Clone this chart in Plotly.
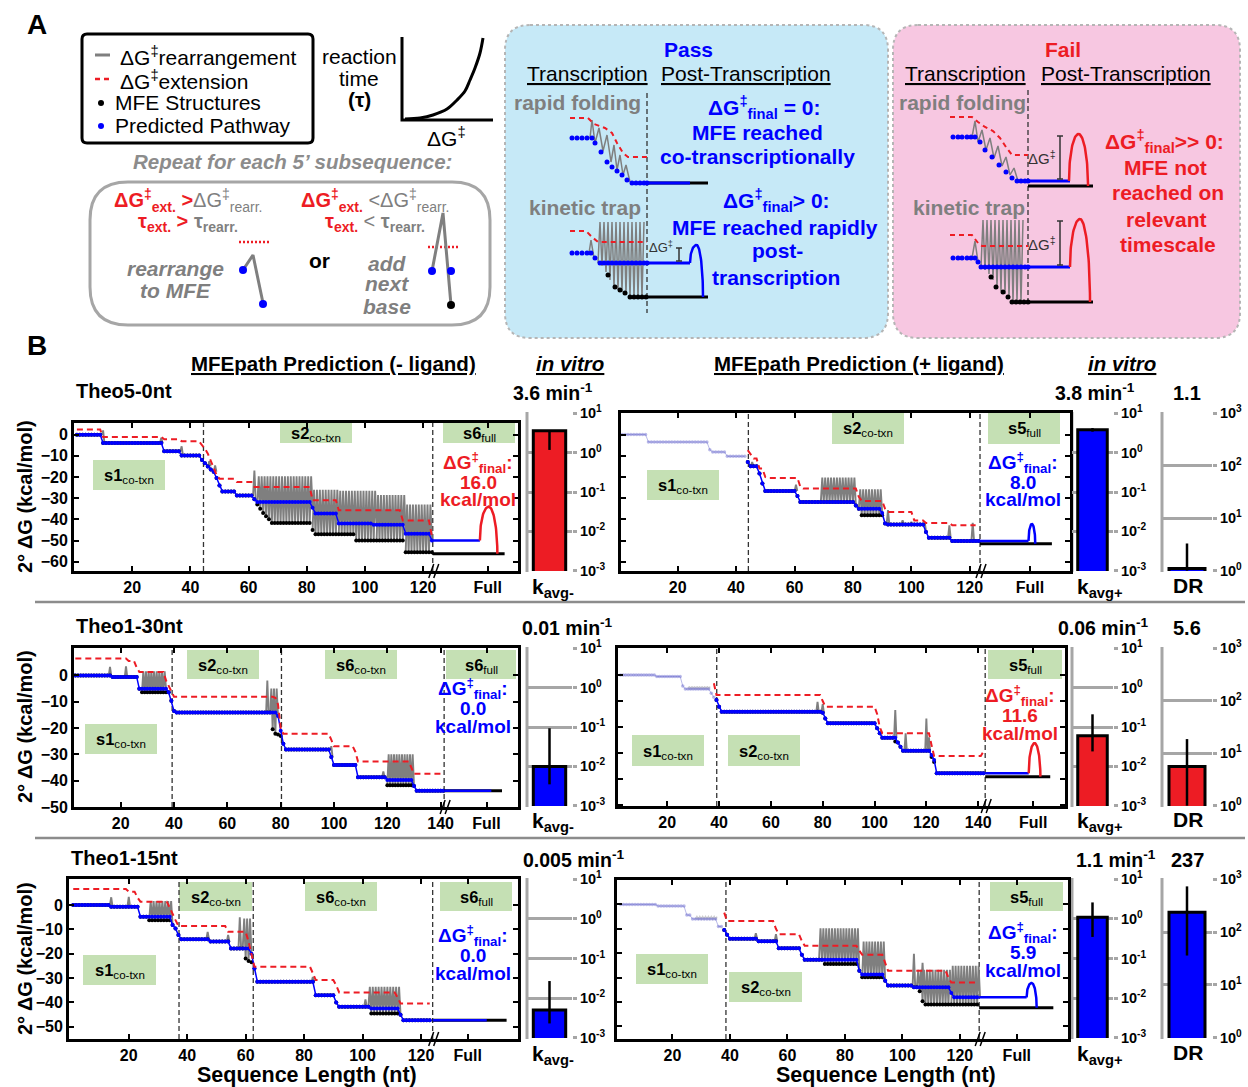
import numpy as np
import plotly.graph_objects as go

W, H = 1248, 1087
FONT = "Liberation Sans, Arial, Helvetica, sans-serif"
RED = "#ed1c24"
BLUE = "#0000ff"
GRAY = "#7f7f7f"
LGRAY = "#a6a6a6"
GREEN = "#c5e0b4"
FADE_BLUE = "rgba(100,100,205,0.45)"
FADE_GRAY = "rgba(130,130,130,0.40)"
PASS_BG = "#c6e9f7"
FAIL_BG = "#f7c7e1"

# ======================= DATA =======================
# ---- Theo5-0nt, MFEpath prediction (- ligand) ----
A1_blue_nt = [1, 10, 31, 37, 44, 45, 46, 47, 48, 49, 50, 51, 56, 62, 63, 82, 83, 91, 103, 114, 123]
A1_blue_dg = [0.0, -3.9, -7.9, -9.9, -12.0, -13.5, -15.0, -16.5, -17.5, -20.5, -24.0, -26.8, -28.8, -30.5, -31.8, -34.5, -37.3, -42.0, -42.5, -46.8, -50.0]
A1_mfe_nt = [1, 10, 31, 37, 44, 45, 46, 47, 48, 49, 50, 51, 56, 62, 63, 64, 65, 66, 67, 68, 82, 83, 97, 114]
A1_mfe_dg = [0.0, -3.9, -7.9, -9.9, -12.0, -13.5, -15.0, -16.5, -17.5, -20.5, -24.0, -26.8, -28.8, -30.5, -33.0, -35.0, -37.0, -38.6, -40.0, -41.7, -45.0, -47.1, -50.0, -55.5]
A1_ext_nt = [1, 10, 31, 37, 44, 45, 46, 47, 48, 49, 50, 56, 62, 82, 91, 113, 123]
A1_ext_dg = [2.4, -1.1, -2.2, -3.1, -5.0, -6.6, -9.0, -12.1, -16.0, -19.0, -20.8, -22.4, -24.7, -31.0, -35.7, -40.5, -48.0]
A1_spike_nt = [10, 30, 37, 46.5, 48.5, 62]
A1_spike_dg = [2.0, -1.5, -5.5, -12.5, -14.5, -17.0]
A1_dense_from = [63, 82, 91, 104, 114]
A1_dense_to = [81, 90, 103, 113, 122]
A1_dense_top = [-19.7, -26.0, -26.5, -28.5, -33.0]
A1_last, A1_ext_last = 123, 123
A1_segments = [44.5, 123.3]
A1_full = dict(blue_end=139.5, mfe_end=148.0, mfe_dg=-56.2, dg_final=16.0, arc_end=145.5)

# ---- Theo5-0nt, MFEpath prediction (+ ligand) ----
B1_fade_nt = [1, 10, 31, 32, 37]
B1_fade_dg = [0.0, -3.5, -7.1, -8.2, -10.2]
B1_fade_last = 43
B1_blue_nt = [44, 45, 48, 49, 50, 61, 62, 81, 82, 90, 91, 92, 105, 106, 114]
B1_blue_dg = [-12.9, -15.0, -18.4, -23.1, -26.6, -29.0, -31.8, -33.5, -35.0, -37.0, -42.0, -42.4, -46.0, -48.7, -50.2]
B1_mfe_nt = [44, 45, 48, 49, 50, 61, 62, 81, 82, 83, 91, 92, 105, 106, 114]
B1_mfe_dg = [-12.9, -15.0, -18.4, -23.1, -26.6, -29.0, -31.8, -33.5, -35.0, -38.1, -42.0, -42.4, -46.0, -48.7, -50.2]
B1_ext_nt = [44, 45, 46, 48, 50, 51, 62, 63, 82, 83, 91, 92, 101, 105, 114]
B1_ext_dg = [-7.4, -9.5, -11.3, -16.0, -20.0, -20.5, -24.7, -25.5, -29.4, -31.3, -35.0, -36.5, -40.5, -41.7, -42.8]
B1_spike_nt = [45.5, 60.5, 92, 97, 100, 104.6, 113, 121]
B1_spike_dg = [-13.0, -23.6, -35.7, -40.5, -41.3, -41.7, -42.8, -41.7]
B1_dense_from = [69, 82]
B1_dense_to = [80, 89]
B1_dense_top = [-20.3, -25.8]
B1_last, B1_ext_last = 123, 122
B1_segments = [44.2, 123.5]
B1_full = dict(blue_end=140.1, mfe_end=148.1, mfe_dg=-51.5, dg_final=8.0, arc_end=142.4)

# ---- Theo1-30nt, (- ligand) ----
A2_blue_nt = [3, 17, 27, 38, 39, 40, 41, 79, 80, 81, 82, 99, 100, 109, 120, 130, 131]
A2_blue_dg = [0.0, -0.6, -5.1, -6.4, -9.6, -13.5, -14.1, -15.4, -21.0, -26.0, -28.2, -31.0, -34.0, -38.7, -39.7, -42.0, -43.8]
A2_mfe_nt = [3, 17, 27, 28, 39, 40, 41, 77, 78, 79, 80, 81, 82, 99, 100, 109, 120, 130, 131]
A2_mfe_dg = [0.0, -0.6, -5.1, -6.4, -9.6, -13.5, -14.1, -20.5, -22.2, -22.5, -23.0, -26.0, -28.2, -31.0, -34.0, -38.7, -41.7, -42.0, -43.8]
A2_ext_nt = [3, 23, 26, 27, 37, 38, 39, 40, 78, 79, 80, 81, 99, 100, 108, 109, 129, 130]
A2_ext_dg = [6.4, 5.5, 3.0, 1.3, -1.9, -4.0, -5.8, -8.1, -8.5, -11.0, -19.9, -22.2, -24.5, -26.9, -29.0, -32.7, -35.0, -37.4]
A2_spike_nt = [16, 22, 75, 99, 118.5]
A2_spike_dg = [3.2, 3.4, -2.0, -26.9, -36.5]
A2_dense_from = [28, 76, 120]
A2_dense_to = [36, 78, 129]
A2_dense_top = [1.5, -5.0, -30.0]
A2_last, A2_ext_last = 141, 140
A2_segments = [39.3, 80.3, 141.3]
A2_full = dict(blue_end=159.0, mfe_end=163.0, mfe_dg=-43.8, dg_final=0.0, arc_end=None)

# ---- Theo1-30nt, (+ ligand) ----
B2_fade_nt = [2, 16, 26, 27, 37, 38]
B2_fade_dg = [0.0, -0.6, -4.2, -5.4, -7.0, -8.6]
B2_fade_last = 38
B2_fade_dense = ([28], [36], [-4.4])
B2_blue_nt = [39, 40, 41, 80, 81, 82, 101, 102, 103, 109, 110, 111, 122, 123, 124]
B2_blue_dg = [-9.6, -12.2, -14.1, -14.5, -16.7, -18.6, -20.5, -22.4, -24.1, -26.0, -27.6, -29.1, -30.8, -32.7, -37.8]
B2_mfe_nt = [39, 40, 41, 80, 81, 82, 101, 102, 103, 108, 109, 110, 111, 122, 123, 124]
B2_mfe_dg = [-9.6, -12.2, -14.1, -14.5, -16.7, -18.6, -20.5, -22.4, -24.1, -25.6, -26.0, -27.6, -29.1, -31.5, -33.5, -37.8]
B2_ext_nt = [38, 39, 80, 81, 101, 102, 103, 122, 123, 142]
B2_ext_dg = [-3.2, -7.7, -10.0, -12.2, -15.0, -20.0, -22.4, -27.0, -31.2, -29.5]
B2_spike_nt = [78, 80, 108, 112, 120, 121]
B2_spike_dg = [-10.3, -11.2, -13.5, -22.4, -16.7, -24.0]
B2_dense_from, B2_dense_to, B2_dense_top = [], [], []
B2_last, B2_ext_last = 142, 142
B2_segments = [39.1, 142.7]
B2_full = dict(blue_end=159.5, mfe_end=167.8, mfe_dg=-39.1, dg_final=11.6, arc_end=164.0)

# ---- Theo1-15nt, (- ligand) ----
A3_blue_nt = [1, 14, 24, 35, 36, 37, 38, 48, 55, 62, 63, 64, 84, 91, 92, 103, 113, 114]
A3_blue_dg = [0.0, -0.7, -4.8, -8.2, -9.6, -12.3, -14.0, -15.0, -17.8, -20.0, -26.0, -31.5, -37.0, -40.0, -41.8, -42.5, -45.0, -47.3]
A3_mfe_nt = [1, 14, 24, 27, 35, 36, 37, 38, 48, 55, 60, 61, 62, 63, 64, 84, 91, 92, 103, 113, 114]
A3_mfe_dg = [0.0, -0.7, -4.8, -6.2, -8.2, -9.6, -12.3, -14.0, -15.0, -17.8, -21.9, -23.0, -23.5, -26.0, -31.5, -37.0, -40.0, -41.8, -44.5, -45.0, -47.3]
A3_ext_nt = [1, 20, 23, 24, 34, 35, 36, 37, 54, 61, 62, 63, 83, 84, 91, 92, 112, 113]
A3_ext_dg = [6.6, 5.5, 3.0, 1.4, -1.0, -4.0, -6.2, -8.6, -11.0, -15.0, -19.9, -25.3, -28.0, -30.8, -33.0, -35.9, -38.0, -40.4]
A3_spike_nt = [14, 20, 47, 54, 58, 83, 101]
A3_spike_dg = [3.2, 3.4, -11.0, -12.3, -5.0, -29.5, -38.7]
A3_dense_from = [27, 59, 102]
A3_dense_to = [34, 61, 112]
A3_dense_top = [1.6, -5.5, -33.6]
A3_last, A3_ext_last = 123, 123
A3_segments = [37.2, 62.6, 124.0]
A3_full = dict(blue_end=142.5, mfe_end=149.3, mfe_dg=-47.3, dg_final=0.0, arc_end=None)

# ---- Theo1-15nt, (+ ligand) ----
B3_fade_nt = [2, 15, 25, 27, 36]
B3_fade_dg = [0.0, -0.7, -4.4, -6.0, -9.1]
B3_fade_last = 37
B3_fade_dense = ([28], [35], [-5.0])
B3_blue_nt = [38, 39, 40, 50, 57, 65, 66, 85, 86, 94, 95, 104, 117, 118]
B3_blue_dg = [-10.5, -12.5, -14.1, -15.1, -18.0, -20.7, -22.7, -27.2, -28.8, -31.3, -33.3, -34.0, -36.3, -38.1]
B3_mfe_nt = [38, 39, 40, 50, 57, 65, 66, 73, 85, 86, 94, 95, 104, 106, 107, 108]
B3_mfe_dg = [-10.5, -12.5, -14.1, -15.1, -18.0, -20.7, -22.7, -24.4, -27.2, -29.9, -31.3, -33.3, -34.0, -35.6, -39.7, -41.1]
B3_ext_nt = [38, 39, 56, 57, 65, 66, 85, 86, 94, 95, 116, 117]
B3_ext_dg = [-3.4, -6.8, -10.0, -12.2, -15.0, -17.0, -19.0, -20.7, -24.0, -27.2, -30.0, -32.0]
B3_spike_nt = [49, 56, 104, 107]
B3_spike_dg = [-11.8, -12.2, -20.3, -24.0]
B3_dense_from = [71, 86, 105, 117]
B3_dense_to = [84, 93, 116, 126]
B3_dense_top = [-9.8, -15.2, -26.8, -25.2]
B3_last, B3_ext_last = 126, 126
B3_segments = [38.6, 126.7]
B3_full = dict(blue_end=143.2, mfe_end=152.5, mfe_dg=-42.4, dg_final=5.9, arc_end=146.7)

# ---- in vitro rates ----
CONSTRUCTS = ["Theo5-0nt", "Theo1-30nt", "Theo1-15nt"]
K_MINUS = [3.6, 0.01, 0.005]
K_MINUS_LO = [1.17, 0.0035, 0.0023]
K_MINUS_HI = [3.6, 0.093, 0.027]
K_PLUS = [3.8, 0.06, 1.1]
K_PLUS_LO = [3.4, 0.024, 0.35]
K_PLUS_HI = [4.2, 0.21, 2.6]
DR = [1.1, 5.6, 237]
DR_LO = [1.0, 1.0, 36]
DR_HI = [3.3, 18.6, 735]
K_MINUS_TXT = ["3.6", "0.01", "0.005"]
K_PLUS_TXT = ["3.8", "0.06", "1.1"]
DR_TXT = ["1.1", "5.6", "237"]
K_TICKS = [0.001, 0.01, 0.1, 1, 10]
K_TICKTEXT = ["10<sup>-3</sup>", "10<sup>-2</sup>", "10<sup>-1</sup>", "10<sup>0</sup>", "10<sup>1</sup>"]
DR_TICKS = [1, 10, 100, 1000]
DR_TICKTEXT = ["10<sup>0</sup>", "10<sup>1</sup>", "10<sup>2</sup>", "10<sup>3</sup>"]

# ======================= FIGURE =======================
fig = go.Figure()
LAY = {}
SHAPES = []
ANN = []


def refs(i):
    return ("x" if i == 1 else f"x{i}", "y" if i == 1 else f"y{i}")


def keys(i):
    return ("xaxis" if i == 1 else f"xaxis{i}", "yaxis" if i == 1 else f"yaxis{i}")


def txt(s, x, y, size=21, color="black", xanchor="center", yanchor="middle", angle=0):
    ANN.append(dict(text=s, x=x / W, y=1 - y / H, xref="paper", yref="paper",
                    showarrow=False, xanchor=xanchor, yanchor=yanchor, textangle=angle,
                    font=dict(family=FONT, size=size, color=color)))


def X(x):
    return x / W


def Y(y):
    return 1 - y / H


def rrect(x0, y0, x1, y1, r, fill, color, width, dash=None):
    pts = [("M", x0 + r, y0), ("L", x1 - r, y0), ("Q", x1, y0, x1, y0 + r), ("L", x1, y1 - r),
           ("Q", x1, y1, x1 - r, y1), ("L", x0 + r, y1), ("Q", x0, y1, x0, y1 - r),
           ("L", x0, y0 + r), ("Q", x0, y0, x0 + r, y0)]
    p = ""
    for seg in pts:
        p += seg[0] + " " + " ".join(f"{X(seg[k]):.5f},{Y(seg[k+1]):.5f}" for k in range(1, len(seg), 2)) + " "
    p += "Z"
    SHAPES.append(dict(type="path", path=p, xref="paper", yref="paper", fillcolor=fill,
                       line=dict(color=color, width=width, dash=dash), layer="below"))


def prect(x0, y0, x1, y1, fill):
    SHAPES.append(dict(type="rect", x0=X(x0), x1=X(x1), y0=Y(y1), y1=Y(y0), xref="paper", yref="paper",
                       fillcolor=fill, line=dict(width=0), layer="below"))


def pline(x0, y0, x1, y1, color, width, layer="above"):
    SHAPES.append(dict(type="line", x0=X(x0), x1=X(x1), y0=Y(y0), y1=Y(y1), xref="paper", yref="paper",
                       line=dict(color=color, width=width), layer=layer))


def expand(nts, dgs, last):
    xs, ys = [], []
    for k in range(len(nts)):
        n0 = nts[k]
        n1 = nts[k + 1] - 1 if k + 1 < len(nts) else last
        for n in range(n0, n1 + 1):
            xs.append(n)
            ys.append(dgs[k])
    return xs, ys


def level(nts, dgs, n):
    v = dgs[0]
    for a, b in zip(nts, dgs):
        if a <= n:
            v = b
    return v


def arch(x0, y0, x1, y1, ytop, n=30):
    t = np.linspace(0, np.pi / 2, n)
    xm = (x0 + x1) / 2
    xl = xm - (xm - x0) * np.cos(t)
    yl = y0 + (ytop - y0) * np.sin(t)
    xr = xm + (x1 - xm) * np.sin(t)
    yr = ytop + (y1 - ytop) * (1 - np.cos(t))
    return list(xl) + list(xr), list(yl) + list(yr)


# ---------------- Panel B main plots ----------------
PLOTS = [
    dict(box=(74, 423, 518, 571), xr=(0, 152.6), yr=(-64.4, 5.5), xt=[20, 40, 60, 80, 100, 120], full_at=142.2,
         yt=[-60, -50, -40, -30, -20, -10, 0], ylab=True,
         blue=(A1_blue_nt, A1_blue_dg), mfe=(A1_mfe_nt, A1_mfe_dg), ext=(A1_ext_nt, A1_ext_dg),
         last=A1_last, ext_last=A1_ext_last, spikes=(A1_spike_nt, A1_spike_dg),
         dense=(A1_dense_from, A1_dense_to, A1_dense_top), fade=None, fade_dense=None,
         seg=A1_segments, full=A1_full, fcol=RED, ftxt=(478, 464)),
    dict(box=(621, 413, 1070, 571), xr=(0.6, 154.3), yr=(-64.4, 10.2), xt=[20, 40, 60, 80, 100, 120], full_at=140.6,
         yt=[-60, -50, -40, -30, -20, -10, 0], ylab=False,
         blue=(B1_blue_nt, B1_blue_dg), mfe=(B1_mfe_nt, B1_mfe_dg), ext=(B1_ext_nt, B1_ext_dg),
         last=B1_last, ext_last=B1_ext_last, spikes=(B1_spike_nt, B1_spike_dg),
         dense=(B1_dense_from, B1_dense_to, B1_dense_top), fade=(B1_fade_nt, B1_fade_dg, B1_fade_last), fade_dense=None,
         seg=B1_segments, full=B1_full, fcol=BLUE, ftxt=(1023, 464)),
    dict(box=(74, 648, 518, 807), xr=(2.5, 169), yr=(-50, 10.4), xt=[20, 40, 60, 80, 100, 120, 140], full_at=157.2,
         yt=[-50, -40, -30, -20, -10, 0], ylab=True,
         blue=(A2_blue_nt, A2_blue_dg), mfe=(A2_mfe_nt, A2_mfe_dg), ext=(A2_ext_nt, A2_ext_dg),
         last=A2_last, ext_last=A2_ext_last, spikes=(A2_spike_nt, A2_spike_dg),
         dense=(A2_dense_from, A2_dense_to, A2_dense_top), fade=None, fade_dense=None,
         seg=A2_segments, full=A2_full, fcol=BLUE, ftxt=(473, 690)),
    dict(box=(618, 648, 1065, 806), xr=(1, 173.5), yr=(-50.4, 10.4), xt=[20, 40, 60, 80, 100, 120, 140], full_at=161.2,
         yt=[-50, -40, -30, -20, -10, 0], ylab=False,
         blue=(B2_blue_nt, B2_blue_dg), mfe=(B2_mfe_nt, B2_mfe_dg), ext=(B2_ext_nt, B2_ext_dg),
         last=B2_last, ext_last=B2_ext_last, spikes=(B2_spike_nt, B2_spike_dg),
         dense=(B2_dense_from, B2_dense_to, B2_dense_top), fade=(B2_fade_nt, B2_fade_dg, B2_fade_last),
         fade_dense=B2_fade_dense, seg=B2_segments, full=B2_full, fcol=RED, ftxt=(1020, 697)),
    dict(box=(69, 879, 518, 1039), xr=(-0.45, 153.2), yr=(-55, 10.7), xt=[20, 40, 60, 80, 100, 120], full_at=136,
         yt=[-50, -40, -30, -20, -10, 0], ylab=True,
         blue=(A3_blue_nt, A3_blue_dg), mfe=(A3_mfe_nt, A3_mfe_dg), ext=(A3_ext_nt, A3_ext_dg),
         last=A3_last, ext_last=A3_ext_last, spikes=(A3_spike_nt, A3_spike_dg),
         dense=(A3_dense_from, A3_dense_to, A3_dense_top), fade=None, fade_dense=None,
         seg=A3_segments, full=A3_full, fcol=BLUE, ftxt=(473, 937)),
    dict(box=(617, 880, 1068, 1039), xr=(0.7, 157.6), yr=(-55.2, 10.0), xt=[20, 40, 60, 80, 100, 120], full_at=139.8,
         yt=[-50, -40, -30, -20, -10, 0], ylab=False,
         blue=(B3_blue_nt, B3_blue_dg), mfe=(B3_mfe_nt, B3_mfe_dg), ext=(B3_ext_nt, B3_ext_dg),
         last=B3_last, ext_last=B3_ext_last, spikes=(B3_spike_nt, B3_spike_dg),
         dense=(B3_dense_from, B3_dense_to, B3_dense_top), fade=(B3_fade_nt, B3_fade_dg, B3_fade_last),
         fade_dense=B3_fade_dense, seg=B3_segments, full=B3_full, fcol=BLUE, ftxt=(1023, 934)),
]

for i, P in enumerate(PLOTS, start=1):
    xa, ya = refs(i)
    kx, ky = keys(i)
    bx0, by0, bx1, by1 = P["box"]
    xr, yr = P["xr"], P["yr"]

    def add(**kw):
        fig.add_trace(go.Scatter(xaxis=xa, yaxis=ya, hoverinfo="skip", showlegend=False, **kw))

    for s in P["seg"]:
        add(x=[s, s], y=[yr[0], yr[1]], mode="lines", line=dict(color="#333333", width=1.3, dash="5px,3px"))
    bnt, bdg = P["blue"]
    mnt, mdg = P["mfe"]
    ent, edg = P["ext"]
    if P["fade"] is not None:
        fnt, fdg, flast = P["fade"]
        if P["fade_dense"] is not None:
            gx, gy = [], []
            for s, e, top in zip(*P["fade_dense"]):
                for k in range(s, e + 1):
                    gx += [k, k + 0.5]
                    gy += [level(fnt, fdg, k), top]
                gx.append(None)
                gy.append(None)
            add(x=gx, y=gy, mode="lines", line=dict(color=FADE_GRAY, width=1.5))
        fx, fy = expand(fnt, fdg, flast)
        add(x=fx, y=fy, mode="lines+markers", line=dict(color=FADE_BLUE, width=1),
            marker=dict(color=FADE_BLUE, size=3.5))
    gx, gy = [], []
    for n, top in zip(*P["spikes"]):
        gx += [n - 0.45, n, n + 0.45, None]
        gy += [level(bnt, bdg, n - 0.45), top, level(bnt, bdg, n + 0.45), None]
    for s, e, top in zip(*P["dense"]):
        for k in range(s, e + 1):
            gx += [k, k + 0.5]
            gy += [level(mnt, mdg, k), top]
        gx += [e + 1, None]
        gy += [level(bnt, bdg, e + 1), None]
    add(x=gx, y=gy, mode="lines", line=dict(color=GRAY, width=1.9))
    mx, my = expand(mnt, mdg, P["last"])
    add(x=mx, y=my, mode="markers", marker=dict(color="black", size=4))
    bxs, bys = expand(bnt, bdg, P["last"])
    add(x=bxs, y=bys, mode="lines+markers", line=dict(color=BLUE, width=1.5), marker=dict(color=BLUE, size=4))
    ex, ey = expand(ent, edg, P["ext_last"])
    add(x=ex, y=ey, mode="lines", line=dict(color=RED, width=2, dash="6px,4px"))
    F = P["full"]
    brk = P["seg"][-1]
    add(x=[brk, F["mfe_end"]], y=[F["mfe_dg"]] * 2, mode="lines", line=dict(color="black", width=3))
    add(x=[brk, F["blue_end"]], y=[bys[-1]] * 2, mode="lines", line=dict(color=BLUE, width=2.5))
    if F["dg_final"] > 0:
        axx, ayy = arch(F["blue_end"], bys[-1], F["arc_end"], F["mfe_dg"], bys[-1] + F["dg_final"])
        add(x=axx, y=ayy, mode="lines", line=dict(color=P["fcol"], width=2.5))

    LAY[kx] = dict(domain=[bx0 / W, bx1 / W], range=list(xr), anchor=ya, automargin=False,
                   tickmode="array", tickvals=P["xt"] + [P["full_at"]],
                   ticktext=[str(v) for v in P["xt"]] + ["Full"],
                   ticks="inside", ticklen=5, tickwidth=1.5, tickcolor="black",
                   showline=True, linewidth=3, linecolor="black", mirror="ticks",
                   showgrid=False, zeroline=False,
                   tickfont=dict(family=FONT, size=16, color="black", weight="bold"))
    LAY[ky] = dict(domain=[1 - by1 / H, 1 - by0 / H], range=list(yr), anchor=xa, automargin=False,
                   tickmode="array", tickvals=P["yt"], showticklabels=P["ylab"],
                   ticks="inside", ticklen=5, tickwidth=1.5, tickcolor="black",
                   showline=True, linewidth=3, linecolor="black", mirror="ticks",
                   showgrid=False, zeroline=False,
                   tickfont=dict(family=FONT, size=16, color="black", weight="bold"))

    pxb = bx0 + (brk - xr[0]) / (xr[1] - xr[0]) * (bx1 - bx0)
    pline(pxb - 4, by1 + 7, pxb + 1, by1 - 7, "black", 1.5)
    pline(pxb + 1, by1 + 7, pxb + 6, by1 - 7, "black", 1.5)

    tx, ty = P["ftxt"]
    txt("<b>ΔG<sup>‡</sup><sub>final</sub>:</b>", tx, ty - 2, 19, P["fcol"])
    txt(f"<b>{F['dg_final']:.1f}</b>", tx, ty + 18, 19, P["fcol"])
    txt("<b>kcal/mol</b>", tx, ty + 36, 19, P["fcol"])

GBOX = [
    (93, 460, 165, 490, "s1", "co-txn"), (280, 423, 352, 443, "s2", "co-txn"), (443, 423, 515, 443, "s6", "full"),
    (647, 470, 719, 500, "s1", "co-txn"), (832, 413, 904, 444, "s2", "co-txn"), (988, 413, 1060, 444, "s5", "full"),
    (85, 724, 157, 754, "s1", "co-txn"), (187, 650, 259, 679, "s2", "co-txn"), (325, 650, 397, 679, "s6", "co-txn"),
    (446, 650, 516, 679, "s6", "full"),
    (632, 735, 704, 766, "s1", "co-txn"), (728, 735, 800, 766, "s2", "co-txn"), (988, 650, 1062, 679, "s5", "full"),
    (83, 955, 156, 985, "s1", "co-txn"), (179, 882, 252, 911, "s2", "co-txn"), (305, 882, 377, 911, "s6", "co-txn"),
    (440, 882, 512, 911, "s6", "full"),
    (636, 954, 708, 984, "s1", "co-txn"), (729, 972, 802, 1002, "s2", "co-txn"), (990, 882, 1063, 911, "s5", "full"),
]
for x0, y0, x1, y1, a, b in GBOX:
    prect(x0, y0, x1, y1, GREEN)
    txt(f"<b>{a}</b><sub>{b}</sub>", (x0 + x1) / 2, (y0 + y1) / 2 + 1, 16.5)

# ---------------- bar charts ----------------
ROW_Y = [(413, 571), (648, 806), (879, 1038)]
COL_X = [(527, 572), (1072, 1113), (1162, 1212)]
BAR_COLORS = [[RED, BLUE, BLUE], [BLUE, RED, RED], [BLUE, BLUE, BLUE]]
for r in range(3):
    vals = [(K_MINUS[r], K_MINUS_LO[r], K_MINUS_HI[r]), (K_PLUS[r], K_PLUS_LO[r], K_PLUS_HI[r]),
            (DR[r], DR_LO[r], DR_HI[r])]
    for c in range(3):
        i = 7 + 3 * r + c
        xa, ya = refs(i)
        kx, ky = keys(i)
        (x0, x1), (y0, y1) = COL_X[c], ROW_Y[r]
        v, lo, hi = vals[c]
        fig.add_trace(go.Bar(x=[0], y=[v], width=[0.72], xaxis=xa, yaxis=ya, showlegend=False, hoverinfo="skip",
                             marker=dict(color=BAR_COLORS[r][c], line=dict(color="black", width=3)),
                             error_y=dict(type="data", symmetric=False, array=[hi - v], arrayminus=[v - lo],
                                          color="black", thickness=2.5, width=0)))
        LAY[kx] = dict(domain=[x0 / W, x1 / W], range=[-0.5, 0.5], anchor=ya, visible=False, automargin=False)
        if c < 2:
            yrng, tv, tt = [-3.006, 1.006], K_TICKS, K_TICKTEXT
        else:
            yrng, tv, tt = [-0.006, 3.006], DR_TICKS, DR_TICKTEXT
        LAY[ky] = dict(domain=[1 - y1 / H, 1 - y0 / H], type="log", range=yrng, anchor=xa, side="right",
                       automargin=False,
                       tickmode="array", tickvals=tv, ticktext=tt, showgrid=True, gridcolor=LGRAY, gridwidth=3,
                       showline=False, zeroline=False, ticks="outside", ticklen=4, tickwidth=3, tickcolor=LGRAY,
                       tickfont=dict(family=FONT, size=14.5, color="black", weight="bold"))
        pline(x0, y0 - 1, x0, y1 + 1, LGRAY, 3, layer="below")

# ---------------- overlay axis for schematic drawings (pixel coordinates) ----------------
OV = 16
OVX, OVY = refs(OV)
kx, ky = keys(OV)
LAY[kx] = dict(domain=[0, 1], range=[0, W], anchor=OVY, visible=False, fixedrange=True, automargin=False)
LAY[ky] = dict(domain=[0, 1], range=[H, 0], anchor=OVX, visible=False, fixedrange=True, automargin=False)


def ov_line(xs, ys, color, width, dash=None, shape="linear"):
    fig.add_trace(go.Scatter(x=xs, y=ys, mode="lines", line=dict(color=color, width=width, dash=dash, shape=shape),
                             xaxis=OVX, yaxis=OVY, hoverinfo="skip", showlegend=False))


def ov_dots(xs, ys, color, size):
    fig.add_trace(go.Scatter(x=xs, y=ys, mode="markers", marker=dict(color=color, size=size),
                             xaxis=OVX, yaxis=OVY, hoverinfo="skip", showlegend=False))


def ibeam(x, y0, y1):
    ov_line([x - 3, x + 3, None, x, x, None, x - 3, x + 3], [y0, y0, None, y0, y1, None, y1, y1], "#333333", 1.5)


def zig(xs, bottoms, top):
    zx, zy = [], []
    for x, b in zip(xs, bottoms):
        zx += [x, x + 2]
        zy += [b, top]
    return zx, zy


# ======== Panel A ========
txt("<b>A</b>", 37, 25, 28)
rrect(82, 34, 313, 143, 5, "rgba(0,0,0,0)", "black", 3)
ov_line([95, 110], [55, 55], GRAY, 3)
ov_line([95, 113], [79, 79], RED, 2.5, dash="5px,4px")
ov_dots([101], [103], "black", 6)
ov_dots([101], [126], BLUE, 6)
txt("ΔG<sup>‡</sup>rearrangement", 118, 56, 21, xanchor="left")
txt("ΔG<sup>‡</sup>extension", 118, 80, 21, xanchor="left")
txt("MFE Structures", 113, 102, 21, xanchor="left")
txt("Predicted Pathway", 113, 125, 21, xanchor="left")
txt("reaction", 359, 56, 21)
txt("time", 359, 78, 21)
txt("<b>(τ)</b>", 359, 100, 21)
CURVE_X = [405, 420, 433, 447, 457, 465, 470, 475, 480, 483]
CURVE_Y = [119, 118, 115, 109, 100, 91, 80, 68, 53, 38]
ov_line([402, 402, 493], [37, 120, 120], "black", 3)
ov_line(CURVE_X, CURVE_Y, "black", 3, shape="spline")
txt("ΔG<sup>‡</sup>", 446, 137, 21)
txt("<b><i>Repeat for each 5’ subsequence:</i></b>", 292, 162, 20.5, "#8c8c8c")
rrect(90, 182, 490, 325, 38, "rgba(0,0,0,0)", LGRAY, 3)
txt(f"<span style='color:{RED}'><b>ΔG<sup>‡</sup><sub>ext.</sub> ></b></span>"
    f"<span style='color:{GRAY}'>ΔG<sup>‡</sup><sub>rearr.</sub></span>", 188, 200, 20)
txt(f"<span style='color:{RED}'><b>τ<sub>ext.</sub> ></b></span> "
    f"<span style='color:{GRAY}'><b>τ<sub>rearr.</sub></b></span>", 188, 222, 20)
txt(f"<span style='color:{RED}'><b>ΔG<sup>‡</sup><sub>ext.</sub></b></span>"
    f"<span style='color:{GRAY}'> <ΔG<sup>‡</sup><sub>rearr.</sub></span>", 375, 200, 20)
txt(f"<span style='color:{RED}'><b>τ<sub>ext.</sub></b></span>"
    f"<span style='color:{GRAY}'> < <b>τ<sub>rearr.</sub></b></span>", 375, 222, 20)
txt("<b><i>rearrange</i></b>", 175, 268, 21, GRAY)
txt("<b><i>to MFE</i></b>", 175, 290, 21, GRAY)
txt("<b>or</b>", 319, 261, 21)
txt("<b><i>add</i></b>", 387, 263, 21, GRAY)
txt("<b><i>next</i></b>", 387, 284, 21, GRAY)
txt("<b><i>base</i></b>", 387, 306, 21, GRAY)
ov_line([239, 269], [242, 242], RED, 2.5, dash="2px,2px")
ov_line([243, 253, 263], [270, 255, 303], GRAY, 3)
ov_dots([243, 263], [270, 304], BLUE, 8)
ov_line([428, 458], [247, 247], RED, 2.5, dash="2px,2px")
ov_line([432, 443, 451], [271, 213, 305], GRAY, 3)
ov_dots([432, 451], [271, 271], BLUE, 8)
ov_dots([451], [305], "black", 8)

# Pass box
rrect(505, 25, 888, 338, 25, PASS_BG, "#b5b5b5", 2, dash="dot")
txt("<b>Pass</b>", 688, 50, 21, BLUE)
txt("<u>Transcription</u>", 587, 74, 21)
txt("<u>Post-Transcription</u>", 746, 74, 21)
txt("<b>rapid folding</b>", 577, 102, 21, GRAY)
txt("<b>kinetic trap</b>", 585, 207, 21, GRAY)
txt("<b>ΔG<sup>‡</sup><sub>final</sub> = 0:</b>", 764, 108, 21, BLUE)
txt("<b>MFE reached</b>", 758, 133, 21, BLUE)
txt("<b>co-transcriptionally</b>", 758, 157, 21, BLUE)
txt("<b>ΔG<sup>‡</sup><sub>final</sub>> 0:</b>", 776, 201, 21, BLUE)
txt("<b>MFE reached rapidly</b>", 775, 227, 21, BLUE)
txt("<b>post-</b>", 777, 251, 21, BLUE)
txt("<b>transcription</b>", 776, 277, 21, BLUE)
ov_line([647, 647], [93, 313], "#333333", 1.3, dash="5px,3px")
PT_EXT_X = [570, 588, 594, 605, 612, 617, 623, 628, 647]
PT_EXT_Y = [118, 118, 124, 128, 133, 143, 153, 157, 157]
PT_GRAY_X = [590, 592, 595, 599, 603, 607, 611, 614, 617, 620, 623, 626, 630]
PT_GRAY_Y = [138, 120, 143, 128, 151, 135, 162, 145, 170, 155, 175, 165, 182]
PT_BLUE_X = [572, 577, 582, 587, 592, 595, 601, 607, 612, 617, 622, 627, 632, 636, 640, 644, 647]
PT_BLUE_Y = [138, 138, 138, 138, 138, 143, 152, 162, 167, 171, 175, 180, 183, 183, 183, 183, 183]
ov_line(PT_GRAY_X, PT_GRAY_Y, GRAY, 1.5)
ov_line(PT_EXT_X, PT_EXT_Y, RED, 2, dash="5px,4px")
ov_line([647, 708], [183, 183], "black", 3)
ov_line([647, 690], [183, 183], BLUE, 3)
ov_dots(PT_BLUE_X, PT_BLUE_Y, BLUE, 5)
PB_EXT_X = [570, 586, 592, 598, 647]
PB_EXT_Y = [231, 231, 237, 242, 242]
PB_SPIKE_X = [598, 602, 606, 610, 614, 618, 622, 626, 630, 634, 638, 642]
PB_SPIKE_B = [263, 266, 272, 280, 287, 290, 292, 294, 297, 297, 297, 297]
PB_MFE_X = [608, 615, 620, 625, 630, 634, 638, 642, 646]
PB_MFE_Y = [275, 287, 290, 293, 297, 297, 297, 297, 297]
PB_BLUE_X = [572, 577, 582, 587, 591, 595, 600, 604, 608, 612, 616, 620, 624, 628, 632, 636, 640, 644, 647]
PB_BLUE_Y = [253, 253, 253, 253, 253, 258] + [263] * 13
zx, zy = zig(PB_SPIKE_X, PB_SPIKE_B, 222)
ov_line([589, 591, 594, None] + zx, [253, 240, 258, None] + zy, GRAY, 1.5)
ov_line(PB_EXT_X, PB_EXT_Y, RED, 2, dash="5px,4px")
ov_dots(PB_MFE_X, PB_MFE_Y, "black", 5)
ov_line([647, 708], [297, 297], "black", 3)
ov_line([647, 690], [263, 263], BLUE, 3)
ax_, ay_ = arch(690, 263, 703, 297, 245)
ov_line(ax_, ay_, BLUE, 2.5)
ov_dots(PB_BLUE_X, PB_BLUE_Y, BLUE, 5)
ibeam(679, 248, 261)
txt("ΔG<sup>‡</sup>", 661, 247, 13, "#333333")

# Fail box
rrect(893, 25, 1240, 338, 25, FAIL_BG, "#b5b5b5", 2, dash="dot")
txt("<b>Fail</b>", 1063, 50, 21, RED)
txt("<u>Transcription</u>", 965, 74, 21)
txt("<u>Post-Transcription</u>", 1126, 74, 21)
txt("<b>rapid folding</b>", 962, 102, 21, GRAY)
txt("<b>kinetic trap</b>", 969, 207, 21, GRAY)
txt("<b>ΔG<sup>‡</sup><sub>final</sub>>> 0:</b>", 1164, 142, 21, RED)
txt("<b>MFE not</b>", 1165, 168, 21, RED)
txt("<b>reached on</b>", 1168, 193, 21, RED)
txt("<b>relevant</b>", 1166, 220, 21, RED)
txt("<b>timescale</b>", 1168, 245, 21, RED)
ov_line([1028, 1028], [90, 300], "#333333", 1.3, dash="5px,3px")
FT_EXT_X = [950, 972, 978, 985, 993, 1000, 1006, 1012, 1028]
FT_EXT_Y = [117, 117, 122, 127, 131, 138, 147, 155, 155]
FT_GRAY_X = [972, 975, 978, 982, 986, 990, 994, 998, 1002, 1006, 1010, 1014, 1018]
FT_GRAY_Y = [137, 121, 142, 130, 150, 138, 158, 146, 166, 157, 175, 168, 181]
FT_BLUE_X = [953, 958, 962, 967, 971, 975, 980, 985, 992, 999, 1006, 1012, 1017, 1021, 1025, 1028]
FT_BLUE_Y = [137, 137, 137, 137, 137, 137, 142, 150, 157, 165, 172, 178, 181, 181, 181, 181]
ov_line(FT_GRAY_X, FT_GRAY_Y, GRAY, 1.5)
ov_line(FT_EXT_X, FT_EXT_Y, RED, 2, dash="5px,4px")
ov_line([1028, 1093], [186, 186], "black", 3)
ov_line([1028, 1070], [181, 181], BLUE, 3)
ax_, ay_ = arch(1069, 181, 1088, 186, 134)
ov_line(ax_, ay_, RED, 2.5)
ov_dots(FT_BLUE_X, FT_BLUE_Y, BLUE, 5)
ibeam(1060, 136, 179)
txt("ΔG<sup>‡</sup>", 1042, 158, 15, "#333333")
FB_EXT_X = [950, 972, 978, 982, 1028]
FB_EXT_Y = [235, 235, 243, 246, 246]
FB_SPIKE_X = [981, 985, 989, 993, 997, 1001, 1005, 1009, 1013, 1017, 1021]
FB_SPIKE_B = [267, 270, 274, 280, 287, 291, 294, 297, 302, 302, 302]
FB_MFE_X = [991, 996, 1003, 1008, 1012, 1016, 1020, 1024, 1028]
FB_MFE_Y = [277, 287, 292, 297, 302, 302, 302, 302, 302]
FB_BLUE_X = [953, 958, 962, 967, 971, 975, 978, 981, 985, 989, 993, 997, 1001, 1005, 1009, 1013, 1017, 1021, 1025, 1028]
FB_BLUE_Y = [258] * 6 + [262] + [267] * 13
zx, zy = zig(FB_SPIKE_X, FB_SPIKE_B, 220)
ov_line([972, 975, 978, None] + zx, [258, 241, 262, None] + zy, GRAY, 1.5)
ov_line(FB_EXT_X, FB_EXT_Y, RED, 2, dash="5px,4px")
ov_dots(FB_MFE_X, FB_MFE_Y, "black", 5)
ov_line([1028, 1093], [302, 302], "black", 3)
ov_line([1028, 1070], [267, 267], BLUE, 3)
ax_, ay_ = arch(1070, 267, 1090, 302, 219)
ov_line(ax_, ay_, RED, 2.5)
ov_dots(FB_BLUE_X, FB_BLUE_Y, BLUE, 5)
ibeam(1060, 221, 265)
txt("ΔG<sup>‡</sup>", 1042, 243, 15, "#333333")

# ======== Panel B texts ========
txt("<b>B</b>", 37, 345, 28)
txt("<b><u>MFEpath Prediction (- ligand)</u></b>", 333, 364, 20.5)
txt("<b><i><u>in vitro</u></i></b>", 570, 364, 20.5)
txt("<b><u>MFEpath Prediction (+ ligand)</u></b>", 859, 364, 20.5)
txt("<b><i><u>in vitro</u></i></b>", 1122, 364, 20.5)
ROW_TITLE_Y = [391, 626, 858]
ROW_LEFT_X = [74, 74, 69]
KM_X = [553, 567, 573]
KP_X = [1095, 1103, 1116]
LABEL_Y = [588, 822, 1055]
YT_Y = [497, 727, 959]
for r in range(3):
    txt(f"<b>{CONSTRUCTS[r]}</b>", ROW_LEFT_X[r], ROW_TITLE_Y[r], 20, xanchor="left")
    txt(f"<b>{K_MINUS_TXT[r]} min<sup>-1</sup></b>", KM_X[r], ROW_TITLE_Y[r] + 1, 19.5)
    txt(f"<b>{K_PLUS_TXT[r]} min<sup>-1</sup></b>", KP_X[r], ROW_TITLE_Y[r] + 1, 19.5)
    txt(f"<b>{DR_TXT[r]}</b>", 1187, ROW_TITLE_Y[r] + 2, 20)
    txt("<b>k<sub>avg-</sub></b>", 553, LABEL_Y[r], 21)
    txt("<b>k<sub>avg+</sub></b>", 1100, LABEL_Y[r], 21)
    txt("<b>DR</b>", 1188, LABEL_Y[r] - 3, 21)
    txt("<b>2° ΔG (kcal/mol)</b>", 25, YT_Y[r], 20, angle=-90)
txt("<b>Sequence Length (nt)</b>", 307, 1075, 21.5)
txt("<b>Sequence Length (nt)</b>", 886, 1075, 21.5)
pline(35, 602, 1245, 602, "#8c8c8c", 2.5, layer="below")
pline(35, 838, 1245, 838, "#8c8c8c", 2.5, layer="below")

fig.update_layout(template="none", width=W, height=H, margin=dict(l=0, r=0, t=0, b=0, pad=0), autosize=False,
                  paper_bgcolor="white", plot_bgcolor="rgba(0,0,0,0)", showlegend=False,
                  barmode="overlay", annotations=ANN, shapes=SHAPES, font=dict(family=FONT), **LAY)
fig.write_html("out.html")
